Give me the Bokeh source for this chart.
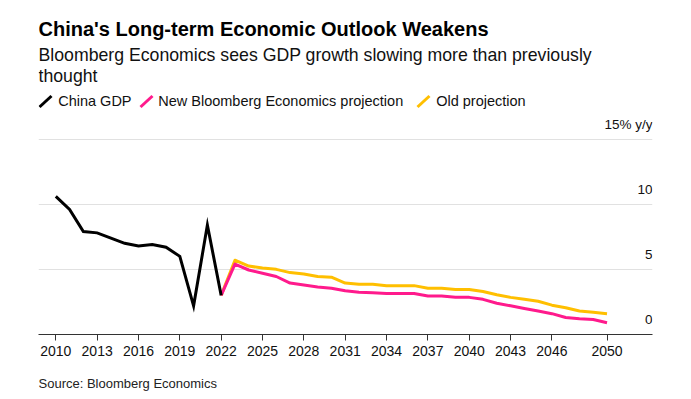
from bokeh.plotting import figure
from bokeh.layouts import column
from bokeh.models import Range1d, FixedTicker, Grid, Label
from bokeh.core.properties import value
from bokeh.embed import file_html
from bokeh.resources import INLINE

# ---- data ----
years_hist = list(range(2010, 2023))
china_gdp = [10.6, 9.6, 7.9, 7.8, 7.4, 7.0, 6.8, 6.9, 6.7, 6.0, 2.2, 8.4, 3.0]

years_proj = list(range(2022, 2051))
new_projection = [3.0, 5.4, 4.95, 4.7, 4.45, 3.95, 3.8, 3.65, 3.55, 3.35,
                  3.25, 3.2, 3.15, 3.15, 3.15, 2.95, 2.95, 2.85, 2.85, 2.7,
                  2.4, 2.2, 2.0, 1.8, 1.6, 1.3, 1.2, 1.15, 0.9]
old_projection = [3.0, 5.7, 5.25, 5.1, 5.0, 4.75, 4.65, 4.45, 4.4, 3.95,
                  3.85, 3.85, 3.75, 3.75, 3.75, 3.55, 3.55, 3.45, 3.45, 3.3,
                  3.05, 2.85, 2.7, 2.55, 2.25, 2.05, 1.8, 1.7, 1.6]

x_ticks = [2010, 2013, 2016, 2019, 2022, 2025, 2028, 2031, 2034, 2037, 2040, 2043, 2046, 2050]
y_ticks = [0, 5, 10, 15]
y_tick_labels = ["0", "5", "10", "15% y/y"]

series_names = ["China GDP", "New Bloomberg Economics projection", "Old projection"]
series_colors = ["#000000", "#FF1A8C", "#FFBF00"]

title_text = "China's Long-term Economic Outlook Weakens"
subtitle_lines = ["Bloomberg Economics sees GDP growth slowing more than previously", "thought"]
source_text = "Source: Bloomberg Economics"

FONT = "Liberation Sans"
W = 691
LEFT, RIGHT = 38, 39
HEADER_H, CHART_H, FOOTER_H = 112, 256, 31
FIX = 6  # baseline correction for the svg text renderer


def blank(height):
    f = figure(width=W, height=height, output_backend="svg", toolbar_location=None,
               title=None,
               x_range=Range1d(LEFT, W - RIGHT), y_range=Range1d(height, 0),
               x_axis_location=None, y_axis_location=None,
               min_border_left=LEFT, min_border_right=RIGHT,
               min_border_top=0, min_border_bottom=0)
    f.outline_line_color = None
    f.xgrid.visible = False
    f.ygrid.visible = False
    f.border_fill_color = "white"
    f.background_fill_color = "white"
    return f


# ---- header: title, subtitle, legend (page pixel coordinates) ----
head = blank(HEADER_H)
head.text(x=[38], y=[34.3 - FIX], text=[title_text], text_font=value(FONT), text_font_style="bold",
          text_font_size="20px", text_baseline="alphabetic", text_color="#000000")
head.text(x=[38] * len(subtitle_lines), y=[60 - FIX + 21 * i for i in range(len(subtitle_lines))],
          text=subtitle_lines, text_font=value(FONT), text_font_size="17.7px",
          text_baseline="alphabetic", text_color="#111111")

legend_glyph_x = [39, 140, 417]
legend_text_x = [57.7, 157.7, 435.7]
head.segment(x0=legend_glyph_x, y0=[106.5] * 3, x1=[g + 12 for g in legend_glyph_x], y1=[95.5] * 3,
             line_color=series_colors, line_width=3)
head.text(x=legend_text_x, y=[106 - FIX] * 3, text=series_names, text_font=value(FONT),
          text_font_size="14.5px", text_baseline="alphabetic", text_color="#111111")

# ---- chart ----
p = figure(width=W, height=CHART_H, output_backend="svg", toolbar_location=None,
           title=None,
           x_range=Range1d(2008.745, 2053.3), y_range=Range1d(0, 16.5),
           y_axis_location=None,
           min_border_left=LEFT, min_border_right=RIGHT, min_border_top=7, min_border_bottom=34)
p.outline_line_color = None
p.background_fill_color = "white"
p.border_fill_color = "white"
for g in p.ygrid:
    g.visible = False
for g in p.xgrid:
    g.visible = False
p.add_layout(Grid(dimension=1, ticker=FixedTicker(ticks=[t for t in y_ticks if t > 0]),
                  grid_line_color="#e1e1e1", grid_line_width=1))

ax = p.xaxis[0]
ax.ticker = FixedTicker(ticks=x_ticks)
ax.axis_line_color = "#333333"
ax.axis_line_width = 1
ax.major_tick_line_color = "#333333"
ax.major_tick_out = 6
ax.major_tick_in = 0
ax.minor_tick_line_color = None
ax.major_label_text_font = FONT
ax.major_label_text_font_size = "14px"
ax.major_label_text_color = "#111111"
ax.major_label_standoff = 5

p.line(years_proj, old_projection, line_color=series_colors[2], line_width=3, line_join="round")
p.line(years_proj, new_projection, line_color=series_colors[1], line_width=3, line_join="round")
p.line(years_hist, china_gdp, line_color=series_colors[0], line_width=3, line_join="miter")

FRAME_W = W - LEFT - RIGHT
for v, lab in zip(y_ticks, y_tick_labels):
    p.add_layout(Label(x=FRAME_W, x_units="screen", y=v, y_units="data", y_offset=9 + FIX,
                       text=lab, text_align="right", text_baseline="alphabetic",
                       text_font=FONT, text_font_size="13.5px", text_color="#111111"))

# ---- footer: source ----
foot = blank(FOOTER_H)
foot.text(x=[38], y=[20.3 - 5], text=[source_text], text_font=value(FONT), text_font_size="13px",
          text_baseline="alphabetic", text_color="#222222")

layout = column(head, p, foot, spacing=0)
open("out.html", "w").write(file_html(layout, INLINE))
